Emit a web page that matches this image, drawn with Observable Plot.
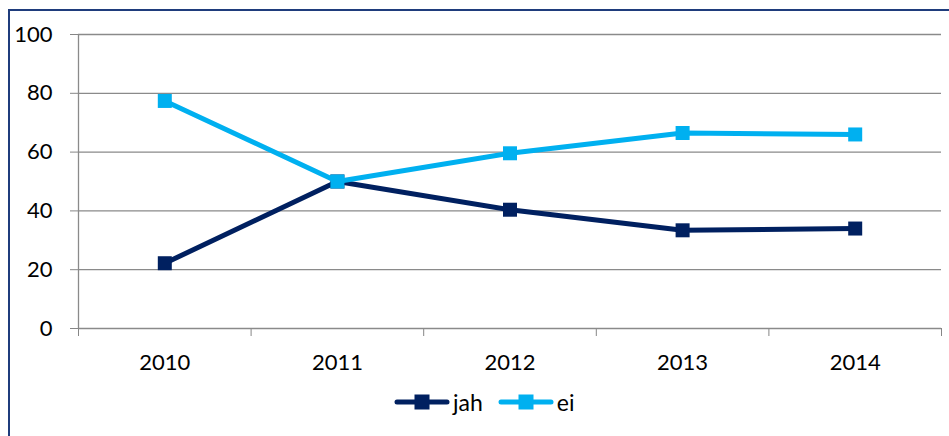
<!DOCTYPE html>
<html>
<head>
<meta charset="utf-8">
<script src="https://cdn.jsdelivr.net/npm/d3@7"></script>
<script src="https://cdn.jsdelivr.net/npm/@observablehq/plot@0.6"></script>
<style>
  html, body { margin: 0; padding: 0; background: #fff; overflow: hidden; }
  #wrap { position: relative; width: 949px; height: 436px; overflow: hidden; font-family: Lato, "Open Sans", sans-serif; }
  #frame { position: absolute; left: 8px; top: 9px; width: 941px; height: 427px; border-top: 2px solid #1f3c7c; border-left: 2px solid #1f3c7c; box-sizing: border-box; pointer-events: none; }
  #chart svg text { fill: #000; }
  #legend { position: absolute; left: 394px; top: 388px; height: 28px; display: flex; align-items: center; font-size: 23px; color: #000; }
  .item { display: flex; align-items: center; margin-right: 15px; }
  .item span { margin-left: 3px; line-height: 28px; }
</style>
</head>
<body>
<div id="wrap">
  <div id="chart"></div>
  <div id="legend"></div>
  <div id="frame"></div>
</div>
<script>
const years = [2010, 2011, 2012, 2013, 2014];
const jah = [22.2, 50, 40.4, 33.4, 34.0];
const ei = [77.4, 50, 59.6, 66.5, 66.0];
const seriesNames = ["jah", "ei"];
const seriesColors = ["#002060", "#00b0f0"];
const yTicks = [0, 20, 40, 60, 80, 100];
const xBoundaries = [2009.5, 2010.5, 2011.5, 2012.5, 2013.5, 2014.5];

const rowsJah = years.map((y, i) => ({year: y, value: jah[i], series: "jah"}));
const rowsEi = years.map((y, i) => ({year: y, value: ei[i], series: "ei"}));

const chart = Plot.plot({
  width: 949,
  height: 380,
  marginLeft: 78,
  marginRight: 8,
  marginTop: 34,
  marginBottom: 52,
  style: {fontSize: "22px", fontFamily: "Lato, 'Open Sans', sans-serif", color: "#868686", background: "transparent", overflow: "visible"},
  x: {domain: [2009.5, 2014.5], ticks: xBoundaries, tickSize: 8, tickFormat: () => "", label: null},
  y: {domain: [0, 100], ticks: yTicks, tickSize: 8, tickPadding: 18, label: null},
  color: {domain: seriesNames, range: seriesColors},
  marks: [
    Plot.ruleY(yTicks, {stroke: "#8a8a8a", strokeWidth: 1.3}),
    Plot.ruleX([xBoundaries[0]], {y1: 0, y2: 100, stroke: "#8a8a8a", strokeWidth: 1.3}),
    Plot.text(years, {x: d => d, y: d => 0, text: d => String(d), dy: 34, fill: "#000"}),
    Plot.line(rowsJah, {x: "year", y: "value", stroke: "series", strokeWidth: 5, strokeLinejoin: "round"}),
    Plot.dot(rowsJah, {x: "year", y: "value", fill: "series", symbol: "square", r: 7.9}),
    Plot.line(rowsEi, {x: "year", y: "value", stroke: "series", strokeWidth: 5, strokeLinejoin: "round"}),
    Plot.dot(rowsEi, {x: "year", y: "value", fill: "series", symbol: "square", r: 7.9})
  ]
});
document.getElementById("chart").appendChild(chart);

const legend = document.getElementById("legend");
seriesNames.forEach((name, i) => {
  const item = document.createElement("div");
  item.className = "item";
  item.innerHTML = `<svg width="56" height="20"><line x1="3" y1="10" x2="53" y2="10" stroke="${seriesColors[i]}" stroke-width="5" stroke-linecap="round"/><rect x="20.5" y="2.5" width="15" height="15" fill="${seriesColors[i]}"/></svg><span>${name}</span>`;
  legend.appendChild(item);
});
</script>
</body>
</html>
